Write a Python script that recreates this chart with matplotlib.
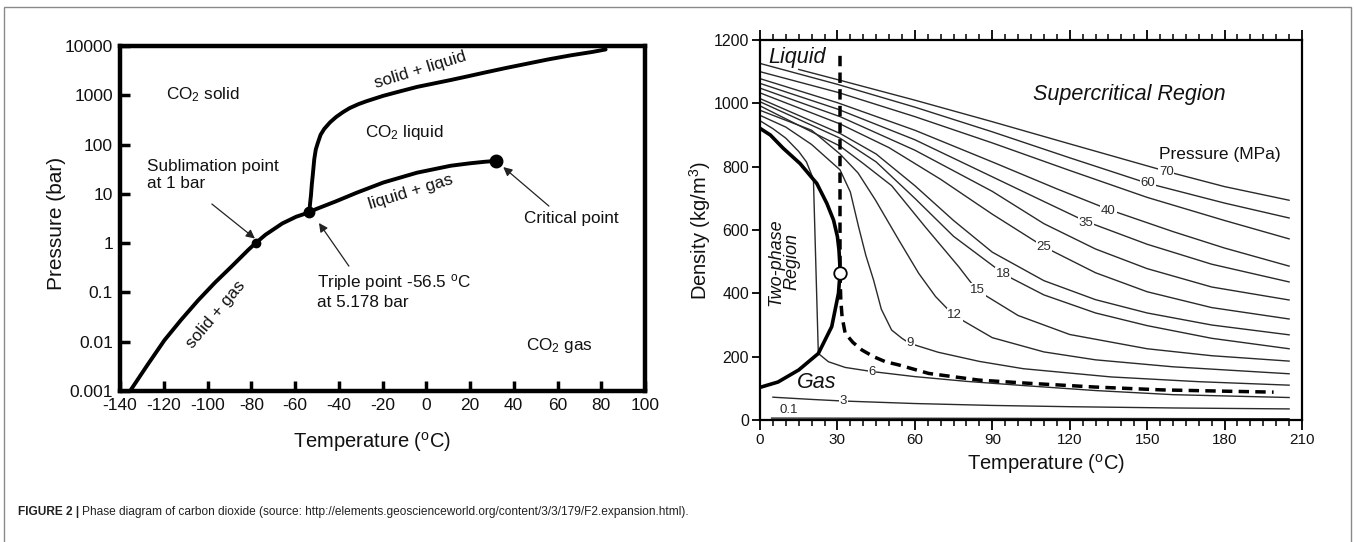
import matplotlib
matplotlib.use('Agg')
import matplotlib.pyplot as plt
from matplotlib.ticker import MultipleLocator, NullLocator
from matplotlib.patches import Rectangle

plt.rcParams['font.family'] = ['Liberation Sans', 'DejaVu Sans']
plt.rcParams['mathtext.fontset'] = 'custom'
plt.rcParams['mathtext.rm'] = 'Liberation Sans'
plt.rcParams['mathtext.it'] = 'Liberation Sans:italic'
plt.rcParams['mathtext.bf'] = 'Liberation Sans:bold'
plt.rcParams['axes.unicode_minus'] = False

# ---------------- Left panel data (pressure-temperature phase diagram) -------------
sub_T = [-135.4, -127.4, -119.7, -112.0, -104.3, -96.6, -88.9, -81.2, -78.0, -73.5, -65.8, -59.5, -53.5]
sub_P = [0.001, 0.0034, 0.0107, 0.028, 0.069, 0.158, 0.339, 0.741, 1.0, 1.48, 2.51, 3.43, 4.22]

melt_T = [-53.5, -53.0, -52.7, -52.3, -51.9, -51.2, -50.5, -49.6, -48.3, -46.6, -44.0, -41.2, -38.0,
          -35.0, -31.0, -27.3, -19.6, -12.0, -4.2, 3.5, 11.2, 19.0, 26.6, 36.0, 46.0, 56.0, 66.0, 76.0, 82.0]
melt_P = [4.22, 7.08, 9.33, 15.8, 23.4, 50.1, 79.4, 107, 158, 209, 282, 363, 457,
          550, 661, 759, 977, 1202, 1479, 1738, 2042, 2427, 2884, 3548, 4365, 5370, 6457, 7586, 8511]

vap_T = [-53.5, -50.4, -41.2, -31.9, -19.6, -4.2, 11.2, 20.0, 26.6, 32.0]
vap_P = [4.22, 4.9, 7.08, 10.5, 17.0, 26.9, 37.2, 41.7, 44.7, 46.8]

point_T = [-78.0, -53.5, 32.0]          # sublimation, triple, critical
point_P = [1.0, 4.22, 46.8]
point_size = [6, 7.5, 9]

left_xticks = list(range(-140, 101, 20))
left_yticks = [0.001, 0.01, 0.1, 1, 10, 100, 1000, 10000]
left_yticklabels = ['0.001', '0.01', '0.1', '1', '10', '100', '1000', '10000']

# ---------------- Right panel data (density-temperature isobars) -------------------
P70_T = [15, 30, 60, 90, 120, 158, 180, 205]
P70_D = [1107, 1075, 1010, 942, 872, 784, 737, 694]
P60_T = [0, 30, 60, 90, 120, 150, 180, 205]
P60_D = [1126, 1060, 988, 910, 828, 748, 685, 638]
P50_T = [0, 30, 60, 90, 120, 150, 180, 205]
P50_D = [1100, 1035, 958, 875, 788, 703, 630, 572]
P40_T = [0, 30, 60, 90, 115, 135, 160, 180, 205]
P40_D = [1078, 1002, 915, 815, 730, 665, 595, 543, 486]
P35_T = [0, 30, 60, 90, 110, 126, 150, 175, 205]
P35_D = [1063, 982, 885, 768, 690, 628, 555, 492, 436]
P30_T = [0, 31, 60, 90, 110, 130, 150, 175, 205]
P30_D = [1048, 958, 852, 722, 620, 540, 478, 420, 379]
P25_T = [0, 31, 50, 70, 90, 110, 130, 150, 175, 205]
P25_D = [1033, 935, 860, 760, 650, 547, 465, 405, 355, 319]
P20_T = [0, 31, 45, 60, 75, 90, 110, 130, 150, 175, 205]
P20_D = [1015, 905, 840, 740, 630, 530, 440, 380, 338, 300, 269]
P18_T = [0, 31, 45, 60, 75, 95, 110, 130, 150, 175, 205]
P18_D = [1005, 890, 815, 700, 580, 458, 395, 338, 298, 258, 225]
P15_T = [0, 31, 40, 51, 64, 77, 84, 100, 120, 150, 175, 205]
P15_D = [992, 865, 810, 740, 610, 484, 410, 330, 270, 225, 203, 186]
P12_T = [0, 20, 31, 38, 44.7, 53.8, 61.5, 68, 75, 90, 110, 130, 160, 205]
P12_D = [978, 915, 840, 780, 695, 568, 463, 390, 331, 260, 215, 190, 168, 146]
P9_T = [0, 10, 20, 31, 35, 38.2, 41, 44, 47, 51, 55, 58, 69, 85, 102, 136, 170, 205]
P9_D = [962, 925, 870, 790, 720, 610, 520, 442, 350, 284, 258, 242, 214, 185, 162, 136, 121, 110]
P6_T = [0, 5, 10, 15, 18, 20.7, 22.6, 26.5, 33, 43.4, 60, 80, 100, 130, 160, 205]
P6_D = [945, 920, 890, 848, 815, 760, 210, 184, 166, 153, 137, 122, 110, 93, 80, 71]
P3_T = [5, 20, 32, 60, 90, 120, 160, 205]
P3_D = [72, 65, 60, 52, 46, 42, 38, 35]
P01_T = [4.5, 205]
P01_D = [6, 4]

liq_T = [0, 4, 9, 15.5, 22, 25.9, 28.5, 30, 30.6, 30.9, 31]
liq_D = [921, 900, 858, 810, 747, 684, 631, 579, 537, 495, 463]
gas_T = [0, 7, 15, 22.6, 27.8, 30.4, 31]
gas_D = [103, 120, 158, 210, 295, 400, 463]

dash_T = [31, 31, 31.3, 31.8, 33, 36, 39.5, 44, 48.6, 53.7, 65.4, 84.8, 104, 130, 156, 180, 199]
dash_D = [1150, 463, 380, 326, 274, 245, 221, 200, 184, 174, 147, 126, 116, 104, 95, 91, 88]

crit_T = [31]
crit_D = [463]

iso_labels = ['70', '60', '40', '35', '25', '18', '15', '12', '9', '6', '3', '0.1']
iso_label_T = [157.4, 150.3, 135, 126.3, 110, 94.2, 84.2, 75.5, 58.3, 43.4, 32.4, 11]
iso_label_D = [784, 747, 661, 623, 547, 462, 410, 331, 242, 153, 60, 32]

right_xticks = list(range(0, 211, 30))
right_yticks = list(range(0, 1201, 200))

# ---------------- Figure ---------------------------------------------------------
W, H = 1355, 542
fig = plt.figure(figsize=(W / 100, H / 100), dpi=100)


def fx(x):
    return x / W


def fy(y):
    return 1 - y / H


# outer frame
fig.add_artist(Rectangle((fx(4), -0.05), fx(1351) - fx(4), fy(7) + 0.05,
                         transform=fig.transFigure, fill=False, ec='#8a8a8a', lw=1.0))

TXT = '#111111'

# ---------------- Left axes -------------------------------------------------------
ax1 = fig.add_axes([fx(120), fy(391), (645 - 120) / W, (391 - 46) / H])
ax1.set_yscale('log')
ax1.set_xlim(-140, 100)
ax1.set_ylim(0.001, 10000)
lkw = dict(color='black', lw=2.8, solid_capstyle='round', solid_joinstyle='round')
ax1.plot(sub_T, sub_P, **lkw)
ax1.plot(melt_T, melt_P, **lkw)
ax1.plot(vap_T, vap_P, **lkw)
for t, p, s in zip(point_T, point_P, point_size):
    ax1.plot([t], [p], 'o', color='black', ms=s, zorder=5)

ax1.set_xticks(left_xticks)
ax1.set_yticks(left_yticks)
ax1.set_yticklabels(left_yticklabels)
ax1.yaxis.set_minor_locator(NullLocator())
ax1.tick_params(direction='in', length=7, width=2.5, labelsize=12.5, pad=5, labelcolor=TXT)
for s in ax1.spines.values():
    s.set_linewidth(3.2)

akw = dict(transform=ax1.transAxes, fontsize=12.3, color=TXT)
ax1.text(0.573, 0.930, 'solid + liquid', rotation=17, ha='center', va='center', **akw)
ax1.text(0.158, 0.858, 'CO$_2$ solid', ha='center', va='center', **akw)
ax1.text(0.541, 0.748, 'CO$_2$ liquid', ha='center', va='center', **akw)
ax1.text(0.051, 0.626, 'Sublimation point\nat 1 bar', ha='left', va='center', linespacing=1.2, **akw)
ax1.text(0.553, 0.577, 'liquid + gas', rotation=17, ha='center', va='center', **akw)
ax1.text(0.859, 0.501, 'Critical point', ha='center', va='center', **akw)
ax1.text(0.376, 0.290, 'Triple point -56.5 $^{\\rm o}$C\nat 5.178 bar', ha='left', va='center',
         linespacing=1.2, **akw)
ax1.text(0.183, 0.223, 'solid + gas', rotation=50, ha='center', va='center', **akw)
ax1.text(0.837, 0.132, 'CO$_2$ gas', ha='center', va='center', **akw)

arw = dict(arrowstyle='-|>', lw=0.9, color='#222222', mutation_scale=13, shrinkA=0, shrinkB=0)
ax1.annotate('', xy=(0.257, 0.442), xytext=(0.175, 0.542), xycoords='axes fraction',
             textcoords='axes fraction', arrowprops=arw)
ax1.annotate('', xy=(0.730, 0.649), xytext=(0.817, 0.536), xycoords='axes fraction',
             textcoords='axes fraction', arrowprops=arw)
ax1.annotate('', xy=(0.379, 0.487), xytext=(0.436, 0.362), xycoords='axes fraction',
             textcoords='axes fraction', arrowprops=arw)

fig.text(fx(56), fy(223), 'Pressure (bar)', rotation=90, ha='center', va='center', fontsize=15, color=TXT)
fig.text(fx(372), fy(442), 'Temperature ($^{\\rm o}$C)', ha='center', va='center', fontsize=14.5, color=TXT)

# ---------------- Right axes ------------------------------------------------------
ax2 = fig.add_axes([fx(760), fy(420), (1302 - 760) / W, (420 - 40) / H])
ax2.set_xlim(0, 210)
ax2.set_ylim(0, 1200)

ikw = dict(color='#2a2a2a', lw=1.0, zorder=2)
for tt, dd in [(P70_T, P70_D), (P60_T, P60_D), (P50_T, P50_D), (P40_T, P40_D), (P35_T, P35_D),
               (P30_T, P30_D), (P25_T, P25_D), (P20_T, P20_D), (P18_T, P18_D), (P15_T, P15_D),
               (P12_T, P12_D), (P9_T, P9_D), (P6_T, P6_D), (P3_T, P3_D), (P01_T, P01_D)]:
    ax2.plot(tt, dd, **ikw)

ax2.plot(liq_T, liq_D, color='black', lw=2.6, zorder=4, solid_capstyle='butt')
ax2.plot(gas_T, gas_D, color='black', lw=2.6, zorder=4, solid_capstyle='butt')
ax2.plot(dash_T, dash_D, color='black', lw=2.5, dashes=(3.0, 1.8), zorder=4, dash_capstyle='butt')
ax2.plot(crit_T, crit_D, 'o', ms=9, mfc='white', mec='black', mew=1.3, zorder=6)

for lab, t, d in zip(iso_labels, iso_label_T, iso_label_D):
    ax2.text(t, d, lab, fontsize=9.5, color='#2a2a2a', ha='center', va='center', zorder=3,
             bbox=dict(fc='white', ec='none', pad=0.6))

ax2.text(3.2, 1146, 'Liquid', style='italic', fontsize=15.5, ha='left', va='center', color=TXT)
ax2.text(143, 1029, 'Supercritical Region', style='italic', fontsize=15.5, ha='center', va='center', color=TXT)
ax2.text(178, 837, 'Pressure (MPa)', fontsize=12.5, ha='center', va='center', color=TXT)
ax2.text(9.3, 499, 'Two-phase\nRegion', style='italic', fontsize=13, rotation=90, ha='center', va='center',
         linespacing=0.95, color=TXT)
ax2.text(21.9, 117, 'Gas', style='italic', fontsize=15.5, ha='center', va='center', color=TXT)

ax2.set_xticks(right_xticks)
ax2.set_yticks(right_yticks)
ax2.xaxis.set_minor_locator(MultipleLocator(5))
ax2.tick_params(axis='x', which='both', direction='out', top=True, bottom=True, labeltop=False)
ax2.tick_params(axis='x', which='major', length=7, width=1.3, labelsize=11, pad=2.5, labelcolor=TXT)
ax2.tick_params(axis='x', which='minor', length=4, width=1.1)
ax2.tick_params(axis='y', which='major', direction='out', length=6, width=1.3, labelsize=11.5,
                pad=2, right=False, labelcolor=TXT)
for s in ax2.spines.values():
    s.set_linewidth(1.6)

fig.text(fx(700), fy(231), 'Density (kg/m$^3$)', rotation=90, ha='center', va='center', fontsize=14.5, color=TXT)
fig.text(fx(1046), fy(464), 'Temperature ($^{\\rm o}$C)', ha='center', va='center', fontsize=14.5, color=TXT)

# ---------------- Caption -----------------------------------------------------------
cap_font = ['Liberation Sans', 'DejaVu Sans']
t1 = fig.text(fx(18), fy(512), 'FIGURE 2 |', fontsize=8.6, fontweight='bold', family=cap_font,
              ha='left', va='center', color='#222222')
fig.canvas.draw()
bb = t1.get_window_extent(renderer=fig.canvas.get_renderer())
fig.text((bb.x1 + 3) / W, fy(512),
         'Phase diagram of carbon dioxide (source: http://elements.geoscienceworld.org/content/3/3/179/F2.expansion.html).',
         fontsize=8.6, family=cap_font, ha='left', va='center', color='#222222')

fig.savefig('out.png', dpi=100, facecolor='white')
